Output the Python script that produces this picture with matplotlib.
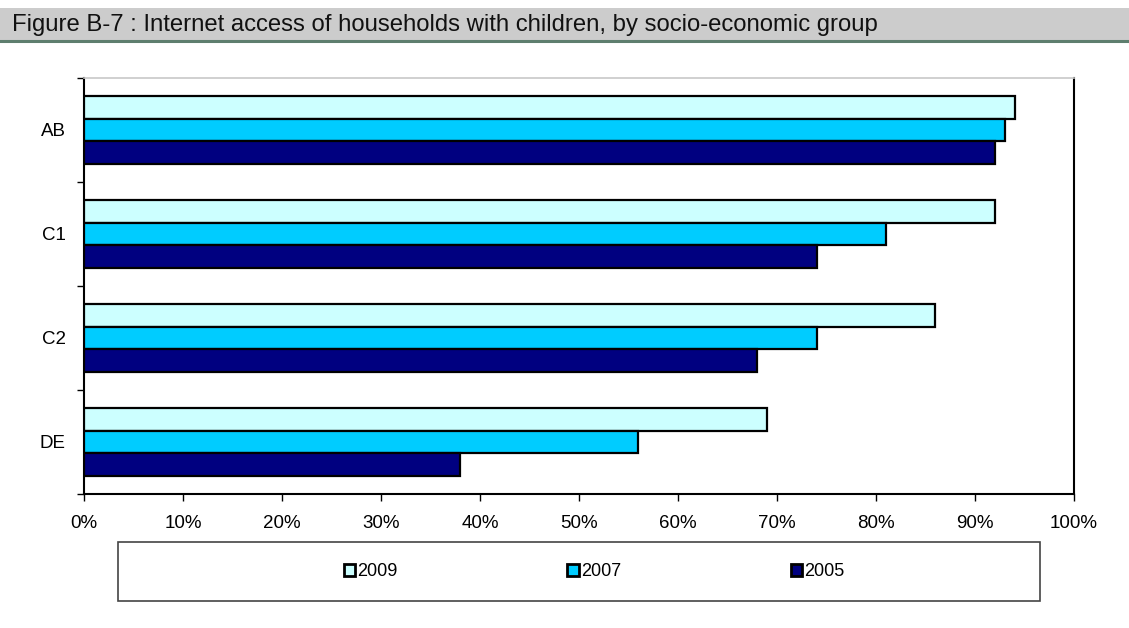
import matplotlib
matplotlib.use("Agg")
import matplotlib.pyplot as plt
from matplotlib.patches import Rectangle
from matplotlib.lines import Line2D
import numpy as np

plt.rcParams['font.family'] = ['Liberation Sans', 'DejaVu Sans']

title = "Figure B-7 : Internet access of households with children, by socio-economic group"
categories = ["AB", "C1", "C2", "DE"]
years = ["2009", "2007", "2005"]
values_2009 = [94, 92, 86, 69]
values_2007 = [93, 81, 74, 56]
values_2005 = [92, 74, 68, 38]
colors = ["#CCFFFF", "#00CCFF", "#000080"]
xticks = [0, 10, 20, 30, 40, 50, 60, 70, 80, 90, 100]

W, H = 1129, 628
fig = plt.figure(figsize=(W / 100, H / 100), dpi=100)

# title bar
fig.patches.append(Rectangle((0, 1 - 40 / H), 1, 32 / H, transform=fig.transFigure,
                             facecolor="#CCCCCC", edgecolor="none", zorder=0))
fig.lines.append(Line2D([0, 1], [1 - 41 / H, 1 - 41 / H], transform=fig.transFigure,
                        color="#5E7E6E", lw=2.2))
fig.text(12 / W, 1 - 25 / H, title, fontsize=17.2, va="center", ha="left", color="#111111")

ax = fig.add_axes([84 / W, (H - 494) / H, (1074 - 84) / W, (494 - 78) / H])

centers = np.arange(len(categories))[::-1].astype(float)
h = 0.22
series = [values_2009, values_2007, values_2005]
offsets = [h, 0, -h]
handles = []
for vals, off, col, yr in zip(series, offsets, colors, years):
    b = ax.barh(centers + off, vals, height=h, color=col, edgecolor="black",
                linewidth=1.6, label=yr, zorder=3)
    handles.append(b)

ax.set_xlim(0, 100)
ax.set_ylim(-0.5, len(categories) - 0.5)
ax.set_xticks(xticks)
ax.set_xticklabels([f"{v}%" for v in xticks], fontsize=13.5)
ax.set_yticks(centers)
ax.set_yticklabels(categories, fontsize=13.5)
ax.set_yticks(np.arange(-0.5, len(categories), 1.0), minor=True)
ax.tick_params(axis="y", which="major", length=0, pad=13)
ax.tick_params(axis="y", which="minor", length=5, width=1, direction="out")
ax.tick_params(axis="x", which="major", length=5, width=1, direction="out", pad=10)

for s in ["left", "bottom", "right"]:
    ax.spines[s].set_color("black")
    ax.spines[s].set_linewidth(1.5)
ax.spines["top"].set_color("#C8C8C8")
ax.spines["top"].set_linewidth(1.2)

# legend box
fig.patches.append(Rectangle((118 / W, (H - 601) / H), (1040 - 118) / W, (601 - 542) / H,
                             transform=fig.transFigure, facecolor="white",
                             edgecolor="#444444", linewidth=1.2, zorder=1))
leg = fig.legend(handles=handles, labels=years, loc="center",
                 bbox_to_anchor=(594 / W, (H - 572) / H), ncol=3, frameon=False,
                 fontsize=13, handlelength=0.65, handleheight=0.65,
                 handletextpad=0.1, columnspacing=9.4)
for p in leg.get_patches():
    p.set_linewidth(2.0)

fig.savefig("out.png", dpi=100)
